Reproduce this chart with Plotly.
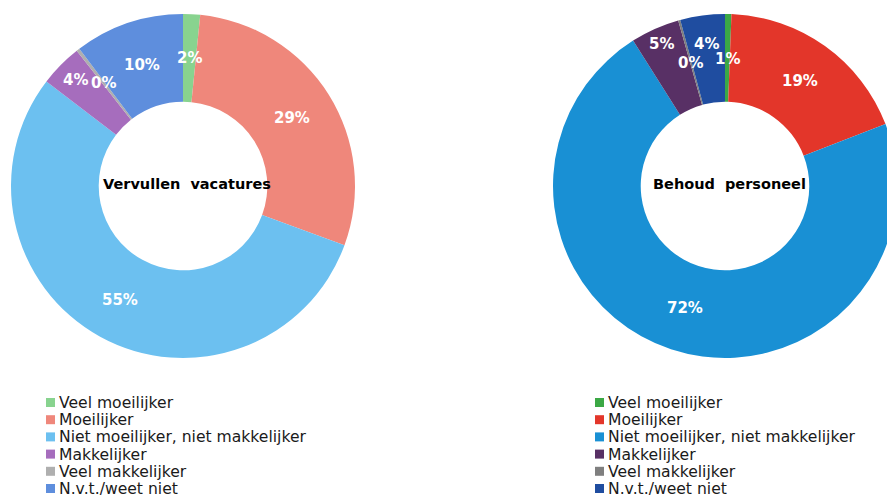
import math
import plotly.graph_objects as go

# ---------------- data ----------------
categories = ["Veel moeilijker", "Moeilijker", "Niet moeilijker, niet makkelijker",
              "Makkelijker", "Veel makkelijker", "N.v.t./weet niet"]
vacatures_values = [1.6, 29.0, 54.8, 4.0, 0.3, 10.3]
personeel_values = [0.6, 18.6, 72.1, 4.6, 0.2, 4.2]
titles = ["Vervullen\u00a0 vacatures", "Behoud\u00a0 personeel"]

# ---------------- style ----------------
left_colors = ["#88D38F", "#EF877B", "#6CC0F0", "#A66DBD", "#AFAFAF", "#5E8EDD"]
right_colors = ["#3BA845", "#E3362A", "#1990D4", "#583065", "#7F7F7F", "#1F4DA0"]

W, H = 900, 497
R = 172
HOLE = 0.49
centers = [(183, 186), (725, 186)]
# radial position (px) of each percentage label
label_r = [[128, 128, 130, 151, 130, 128],
           [127, 129, 128, 156, 128, 143]]
label_font = dict(family="DejaVu Sans", size=15, color="white")
legend_x = [57, 606]
legend_y0 = 403
legend_dy = 17.2

fig = go.Figure()
annotations = []
shapes = []

for k, (vals, cols) in enumerate([(vacatures_values, left_colors),
                                  (personeel_values, right_colors)]):
    cx, cy = centers[k]
    fig.add_trace(go.Pie(
        labels=categories, values=vals, hole=HOLE, sort=False,
        direction="clockwise", rotation=0,
        marker=dict(colors=cols, line=dict(width=0)),
        textinfo="none", hoverinfo="label+percent", showlegend=False,
        domain=dict(x=[(cx - R) / W, (cx + R) / W],
                    y=[1 - (cy + R) / H, 1 - (cy - R) / H]),
    ))
    total = sum(vals)
    cum = 0.0
    for i, v in enumerate(vals):
        mid = (cum + v / 2) / total * 2 * math.pi
        cum += v
        r = label_r[k][i]
        px = cx + r * math.sin(mid)
        py = cy - r * math.cos(mid)
        annotations.append(dict(
            x=px / W, y=1 - py / H, xref="paper", yref="paper",
            text="<b>%d%%</b>" % int(v / total * 100 + 0.5),
            showarrow=False, font=label_font, xanchor="center", yanchor="middle"))
    # centre title
    annotations.append(dict(
        x=(cx + 4) / W, y=1 - (cy - 2) / H, xref="paper", yref="paper",
        text="<b>%s</b>" % titles[k], showarrow=False,
        font=dict(family="DejaVu Sans", size=14.5, color="black"),
        xanchor="center", yanchor="middle"))
    # legend
    for i, name in enumerate(categories):
        ty = legend_y0 + i * legend_dy
        shapes.append(dict(
            type="rect", xref="paper", yref="paper",
            x0=(legend_x[k] - 11) / W, x1=(legend_x[k] - 2) / W,
            y0=1 - (ty + 4) / H, y1=1 - (ty - 5) / H,
            fillcolor=cols[i], line=dict(width=0)))
        annotations.append(dict(
            x=legend_x[k] / W, y=1 - ty / H, xref="paper", yref="paper",
            text=name, showarrow=False, xanchor="left", yanchor="middle",
            font=dict(family="DejaVu Sans", size=15.6, color="#1a1a1a")))

fig.update_layout(
    width=W, height=H, autosize=False,
    margin=dict(l=0, r=0, t=0, b=0),
    paper_bgcolor="white", plot_bgcolor="white",
    annotations=annotations, shapes=shapes,
)

fig.write_html("out.html", post_script="document.body.style.margin='0';document.body.style.overflow='hidden';")
